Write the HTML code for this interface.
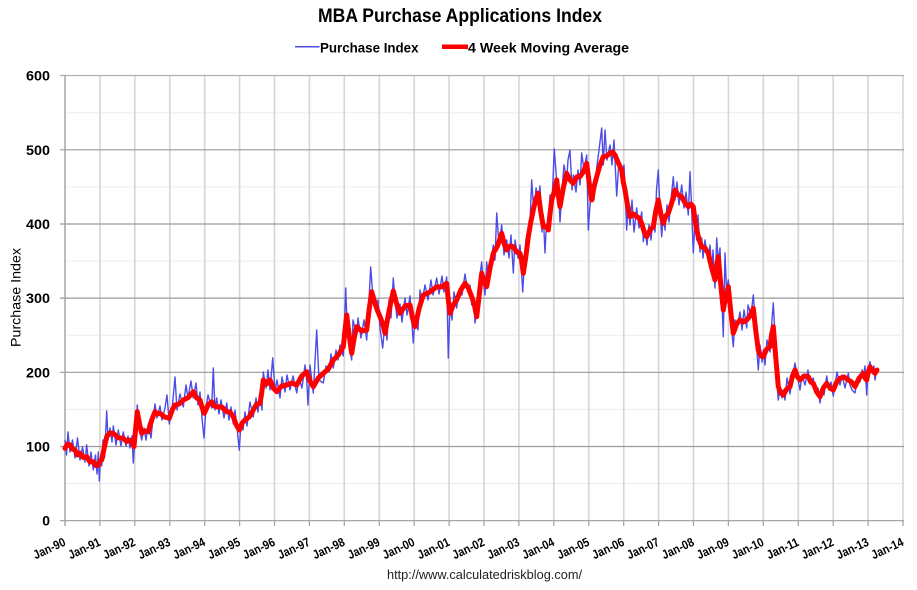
<!DOCTYPE html>
<html>
<head>
<meta charset="utf-8">
<style>
html,body{margin:0;padding:0;background:#fff;}
svg{display:block;}
text{font-family:"Liberation Sans",Arial,sans-serif;}
</style>
</head>
<body>
<svg width="917" height="590" viewBox="0 0 917 590" xmlns="http://www.w3.org/2000/svg">
<rect x="0" y="0" width="917" height="590" fill="#fff"/>

<!-- Title -->
<text x="460" y="22" text-anchor="middle" font-size="19" font-weight="bold" fill="#000" textLength="284" lengthAdjust="spacingAndGlyphs">MBA Purchase Applications Index</text>

<!-- Legend -->
<line x1="295" y1="46.7" x2="319.5" y2="46.7" stroke="#4d4de6" stroke-width="1.5"/>
<text x="320" y="52.3" font-size="14" font-weight="bold" fill="#000" textLength="98.5" lengthAdjust="spacingAndGlyphs">Purchase Index</text>
<line x1="442" y1="46.7" x2="468" y2="46.7" stroke="#ff0000" stroke-width="4.5"/>
<text x="468" y="52.3" font-size="14" font-weight="bold" fill="#000" textLength="161" lengthAdjust="spacingAndGlyphs">4 Week Moving Average</text>

<!-- Minor horizontal gridlines -->
<g stroke="#ececec" stroke-width="1">
<line x1="65" y1="483.6" x2="903" y2="483.6"/>
<line x1="65" y1="409.4" x2="903" y2="409.4"/>
<line x1="65" y1="335.2" x2="903" y2="335.2"/>
<line x1="65" y1="261.1" x2="903" y2="261.1"/>
<line x1="65" y1="186.9" x2="903" y2="186.9"/>
<line x1="65" y1="112.7" x2="903" y2="112.7"/>
</g>

<!-- Vertical gridlines -->
<g stroke="#d6d6d6" stroke-width="1.6">
<line x1="99.9" y1="75.5" x2="99.9" y2="521"/>
<line x1="134.8" y1="75.5" x2="134.8" y2="521"/>
<line x1="169.8" y1="75.5" x2="169.8" y2="521"/>
<line x1="204.7" y1="75.5" x2="204.7" y2="521"/>
<line x1="239.6" y1="75.5" x2="239.6" y2="521"/>
<line x1="274.5" y1="75.5" x2="274.5" y2="521"/>
<line x1="309.4" y1="75.5" x2="309.4" y2="521"/>
<line x1="344.3" y1="75.5" x2="344.3" y2="521"/>
<line x1="379.3" y1="75.5" x2="379.3" y2="521"/>
<line x1="414.2" y1="75.5" x2="414.2" y2="521"/>
<line x1="449.1" y1="75.5" x2="449.1" y2="521"/>
<line x1="484.0" y1="75.5" x2="484.0" y2="521"/>
<line x1="518.9" y1="75.5" x2="518.9" y2="521"/>
<line x1="553.8" y1="75.5" x2="553.8" y2="521"/>
<line x1="588.8" y1="75.5" x2="588.8" y2="521"/>
<line x1="623.7" y1="75.5" x2="623.7" y2="521"/>
<line x1="658.6" y1="75.5" x2="658.6" y2="521"/>
<line x1="693.5" y1="75.5" x2="693.5" y2="521"/>
<line x1="728.4" y1="75.5" x2="728.4" y2="521"/>
<line x1="763.3" y1="75.5" x2="763.3" y2="521"/>
<line x1="798.3" y1="75.5" x2="798.3" y2="521"/>
<line x1="833.2" y1="75.5" x2="833.2" y2="521"/>
<line x1="868.1" y1="75.5" x2="868.1" y2="521"/>
<line x1="903.0" y1="75.5" x2="903.0" y2="521"/>
</g>

<!-- Major horizontal gridlines -->
<g stroke="#9a9a9a" stroke-width="1.2">
<line x1="60" y1="75.5" x2="904" y2="75.5" stroke="#b0b0b0"/>
<line x1="60" y1="149.8" x2="904" y2="149.8"/>
<line x1="60" y1="224" x2="904" y2="224"/>
<line x1="60" y1="298.1" x2="904" y2="298.1"/>
<line x1="60" y1="372.3" x2="904" y2="372.3"/>
<line x1="60" y1="446.5" x2="904" y2="446.5"/>
<line x1="60" y1="520.7" x2="904" y2="520.7"/>
</g>

<!-- Axes -->
<line x1="65" y1="75.5" x2="65" y2="526" stroke="#a0a0a0" stroke-width="1.4"/>
<g stroke="#a0a0a0" stroke-width="1.2">
<line x1="99.9" y1="520.7" x2="99.9" y2="526"/>
<line x1="134.8" y1="520.7" x2="134.8" y2="526"/>
<line x1="169.8" y1="520.7" x2="169.8" y2="526"/>
<line x1="204.7" y1="520.7" x2="204.7" y2="526"/>
<line x1="239.6" y1="520.7" x2="239.6" y2="526"/>
<line x1="274.5" y1="520.7" x2="274.5" y2="526"/>
<line x1="309.4" y1="520.7" x2="309.4" y2="526"/>
<line x1="344.3" y1="520.7" x2="344.3" y2="526"/>
<line x1="379.3" y1="520.7" x2="379.3" y2="526"/>
<line x1="414.2" y1="520.7" x2="414.2" y2="526"/>
<line x1="449.1" y1="520.7" x2="449.1" y2="526"/>
<line x1="484.0" y1="520.7" x2="484.0" y2="526"/>
<line x1="518.9" y1="520.7" x2="518.9" y2="526"/>
<line x1="553.8" y1="520.7" x2="553.8" y2="526"/>
<line x1="588.8" y1="520.7" x2="588.8" y2="526"/>
<line x1="623.7" y1="520.7" x2="623.7" y2="526"/>
<line x1="658.6" y1="520.7" x2="658.6" y2="526"/>
<line x1="693.5" y1="520.7" x2="693.5" y2="526"/>
<line x1="728.4" y1="520.7" x2="728.4" y2="526"/>
<line x1="763.3" y1="520.7" x2="763.3" y2="526"/>
<line x1="798.3" y1="520.7" x2="798.3" y2="526"/>
<line x1="833.2" y1="520.7" x2="833.2" y2="526"/>
<line x1="868.1" y1="520.7" x2="868.1" y2="526"/>
<line x1="903.0" y1="520.7" x2="903.0" y2="526"/>
</g>

<!-- Y tick labels -->
<g font-size="14" font-weight="bold" fill="#000" text-anchor="end">
<text x="50" y="80.5" textLength="24" lengthAdjust="spacingAndGlyphs">600</text>
<text x="50" y="154.8" textLength="24" lengthAdjust="spacingAndGlyphs">500</text>
<text x="50" y="229" textLength="24" lengthAdjust="spacingAndGlyphs">400</text>
<text x="50" y="303.1" textLength="24" lengthAdjust="spacingAndGlyphs">300</text>
<text x="50" y="377.3" textLength="24" lengthAdjust="spacingAndGlyphs">200</text>
<text x="50" y="451.5" textLength="24" lengthAdjust="spacingAndGlyphs">100</text>
<text x="50" y="525.7">0</text>
</g>

<!-- Y axis title -->
<text transform="translate(20.5,297.5) rotate(-90)" text-anchor="middle" font-size="13.5" fill="#000" textLength="99" lengthAdjust="spacingAndGlyphs">Purchase Index</text>

<!-- X tick labels -->
<g font-size="12.5" font-weight="bold" fill="#000" text-anchor="end">
<text transform="translate(66.5,545) rotate(-25)" textLength="34" lengthAdjust="spacingAndGlyphs">Jan-90</text>
<text transform="translate(101.4,545) rotate(-25)" textLength="34" lengthAdjust="spacingAndGlyphs">Jan-91</text>
<text transform="translate(136.3,545) rotate(-25)" textLength="34" lengthAdjust="spacingAndGlyphs">Jan-92</text>
<text transform="translate(171.3,545) rotate(-25)" textLength="34" lengthAdjust="spacingAndGlyphs">Jan-93</text>
<text transform="translate(206.2,545) rotate(-25)" textLength="34" lengthAdjust="spacingAndGlyphs">Jan-94</text>
<text transform="translate(241.1,545) rotate(-25)" textLength="34" lengthAdjust="spacingAndGlyphs">Jan-95</text>
<text transform="translate(276.0,545) rotate(-25)" textLength="34" lengthAdjust="spacingAndGlyphs">Jan-96</text>
<text transform="translate(310.9,545) rotate(-25)" textLength="34" lengthAdjust="spacingAndGlyphs">Jan-97</text>
<text transform="translate(345.8,545) rotate(-25)" textLength="34" lengthAdjust="spacingAndGlyphs">Jan-98</text>
<text transform="translate(380.8,545) rotate(-25)" textLength="34" lengthAdjust="spacingAndGlyphs">Jan-99</text>
<text transform="translate(415.7,545) rotate(-25)" textLength="34" lengthAdjust="spacingAndGlyphs">Jan-00</text>
<text transform="translate(450.6,545) rotate(-25)" textLength="34" lengthAdjust="spacingAndGlyphs">Jan-01</text>
<text transform="translate(485.5,545) rotate(-25)" textLength="34" lengthAdjust="spacingAndGlyphs">Jan-02</text>
<text transform="translate(520.4,545) rotate(-25)" textLength="34" lengthAdjust="spacingAndGlyphs">Jan-03</text>
<text transform="translate(555.3,545) rotate(-25)" textLength="34" lengthAdjust="spacingAndGlyphs">Jan-04</text>
<text transform="translate(590.3,545) rotate(-25)" textLength="34" lengthAdjust="spacingAndGlyphs">Jan-05</text>
<text transform="translate(625.2,545) rotate(-25)" textLength="34" lengthAdjust="spacingAndGlyphs">Jan-06</text>
<text transform="translate(660.1,545) rotate(-25)" textLength="34" lengthAdjust="spacingAndGlyphs">Jan-07</text>
<text transform="translate(695.0,545) rotate(-25)" textLength="34" lengthAdjust="spacingAndGlyphs">Jan-08</text>
<text transform="translate(729.9,545) rotate(-25)" textLength="34" lengthAdjust="spacingAndGlyphs">Jan-09</text>
<text transform="translate(764.8,545) rotate(-25)" textLength="34" lengthAdjust="spacingAndGlyphs">Jan-10</text>
<text transform="translate(799.8,545) rotate(-25)" textLength="34" lengthAdjust="spacingAndGlyphs">Jan-11</text>
<text transform="translate(834.7,545) rotate(-25)" textLength="34" lengthAdjust="spacingAndGlyphs">Jan-12</text>
<text transform="translate(869.6,545) rotate(-25)" textLength="34" lengthAdjust="spacingAndGlyphs">Jan-13</text>
<text transform="translate(904.5,545) rotate(-25)" textLength="34" lengthAdjust="spacingAndGlyphs">Jan-14</text>
</g>

<!-- Footer -->
<text x="387" y="579" font-size="12.5" fill="#222" textLength="195" lengthAdjust="spacingAndGlyphs">http://www.calculatedriskblog.com/</text>

<!-- Purchase Index (blue) -->
<polyline fill="none" stroke="#4d4de6" stroke-width="1.4" stroke-linejoin="round" points="
65,440 66.5,455 68,432 70,452 72.5,440 75,458 77.5,438 80,460 82.5,447 85,462 86.7,445 89,466 91,452 93.3,470 95.5,455 97,474 98.3,452 99.3,481 100.5,458 101.7,466 103,440 104.5,458 106.7,411 108,440 110,428 112,442 113.3,426 116,445 118.3,430 121,446 123.3,432 126,446 128,436 130,448 132,436 133.3,463 135,440 137.3,405 139,425 141.7,440 144,428 146,440 148.3,424 151,438 153,418 155,404 157,418 160,406 162,420 165,408 167,395 169.3,424 172,410 175,377 177,410 180,394 183.3,407 186,385 188,398 191,381 193.3,398 196,383 198,405 200,392 202,418 204,438 206,408 208,395 211.7,408 213.3,368 215,410 216.7,398 219,414 221,400 224,418 226.7,403 229,420 231,407 233.3,424 235,410 237,428 239.3,450 241,422 243,430 245,412 247,426 250,402 253.3,417 256,398 258,412 260,395 262,410 263.3,372 266,388 268,370 270,390 272.7,358 275,392 277,380 280,398 282,377 285,392 287,375 290,390 293,376 296.7,393 299,378 302,388 305,365 306.7,380 308,405 310,365 313.3,393 316.7,330 319,380 323.3,383 326,366 329,372 331,354 333.3,368 336,350 338,360 340,345 343.3,356 345.7,288 347,322 349,345 351.7,360 353,320 356.7,335 358,318 361,338 364,320 366.7,340 369,300 370.7,267 373,298 376,312 378,300 380,328 382.7,348 385,322 387,340 389,300 391,318 393.3,278 395,300 397,318 400,304 402,322 405,298 407,315 410,296 413.3,343 415,318 418,330 420,290 422,302 425,285 428,300 431,280 433,295 436.7,278 439,294 442,276 444,292 446.7,277 448.3,358 450,305 452,320 454,292 456.7,308 459,290 462,295 465,274 468,292 470,285 471.7,305 474,300 475,323 477,310 479,282 481.7,262 483,280 485,295 486.7,262 489,282 491,262 493.3,245 495,260 496.7,213 499,245 501.7,225 504,255 506.7,240 509,258 511,235 513.3,273 515,240 518,258 520,245 522.7,292 524,270 526,240 528.3,228 530,222 531.7,180 534,215 536,188 538.3,198 540,186 542,232 543.3,215 545,253 546,232 548.3,225 550,195 551.7,210 554.3,149 556,172 557.5,195 559,200 560,222 562,190 564,165 566.7,180 568,160 570,150 572,190 573.3,175 576,192 578,170 580,185 581.7,153 584,170 586.7,155 588.3,230 590,205 591.7,190 594,200 596.7,168 599,150 601.7,128 603.3,165 605,130 607,160 610,145 612,165 614,140 616.7,196 619,160 621.7,180 624,165 626.7,230 628,205 630,225 632,200 634,232 636.7,208 639,228 641.7,212 643.3,241.7 645,228 647,245 649,225 651,240 653.3,215 655,232 656.5,190 658.3,170 660,210 661.7,236.7 663.3,215 665,230 667,205 669,222 671,200 673.3,176.7 675,200 677,182 679,205 681.7,185 684,208 686,192 688.3,215 690,171.7 691.5,205 693.3,253 695,222 696.7,240 698,215 700,252 701.7,238 703,258 705,240 708.3,262 710,245 712,270 713,250 715,288 716.7,238 718.3,262 720,248 721.5,290 723.3,336.7 725,253 726.5,290 728.3,280 730,300 731.5,328 733.3,346.7 735,320 737,328 740,312 742,330 744,310 746.7,328 748,305 751,315 753.3,295 755,318 756.5,345 758.3,370 760,345 762,362 763.3,350 765,365 767,340 770,352 772,320 773.3,303 775,335 776.5,380 778.3,400 780,388 782,398 783.3,390 785,400 787,378 790,394 792,380 795,363 797,375 800,390 802,375 805,385 808,370 810,384 813.3,378 815,392 818,388 820,403 822,388 824,395 826.7,376 829,390 831,382 833.3,396 835,385 837,372 840,385 842,375 845,388 848.3,373 850,385 852,390 855,393 857,380 860,382 862,370 863.3,378 865,366 866.7,395 868,372 870,361.7 872,372 874,366 875,380 877,368"/>

<!-- 4 Week Moving Average (red) -->
<polyline fill="none" stroke="#ff0000" stroke-width="5" stroke-linejoin="round" stroke-linecap="round" points="
65,448.3 67.5,444 70,445 72.5,449 75,450 77.5,455 80,453.3 83.3,457.5 86.7,456.7 90,462 93.3,461.7 95.8,465.5 98.3,465 100,461 101.7,460 104.2,448 106.7,436.7 110,433 113.3,433.3 118.3,437.8 123.3,438.3 126.7,441.5 130,440 132,442 134,446.7 135.7,428 137.3,411.7 139.5,424 141.7,433.3 145,431 148.3,431.7 151.7,420 155,411.7 157.5,414 160,413.3 164.7,417 169.3,418.3 172.2,410 175,405 179.2,404 183.3,400 188.3,397.5 193.3,391.7 196.7,398 200,400 202.2,408 204.3,413.3 208,405 211.7,401.7 214.2,406 216.7,406.7 221.7,407 226.7,411.7 230,412 233.3,416.7 236.3,425 239.3,430 242.2,423 245,420 249.2,417 253.3,410 256.7,404 260,403.3 261.7,393 263.3,380 266.7,384 270,380 273.3,388 276.7,391.7 281.7,386 286.7,385 291.7,383 296.7,385 301.7,376 306.7,371.7 310,381 313.3,386.7 318.3,378 323.3,373.3 328.3,369 333.3,360 338.3,355 343.3,346.7 345,330 346.7,315 349.2,336 351.7,353.3 354.2,338 356.7,326.7 361.7,331 366.7,330 369.2,309 371.7,291.7 375.8,306 380,316.7 382.5,323 385,333.3 389.2,310 393.3,291 396.7,304 400,313.3 405,306 410,305 412.5,318 415,326.7 419.2,308 423.3,295 430,292 436.7,286.7 441.7,287 446.7,283.3 448.3,300 450,313.3 453.3,305 456.7,300 460.8,290 465,283.3 468.3,288 471.7,296.7 474.2,304 476.7,316.7 479.2,295 481.7,273.3 484.2,282 486.7,286.7 490,268 493.3,253.3 497.5,246 501.7,233.3 504.2,244 506.7,250 510,246 513.3,246.7 516.7,252 520,253.3 521.7,261 523.3,273.3 525.8,257 528.3,236.7 530.8,222 533.3,210 535.8,199 538.3,193.3 540.8,212 543.3,226.7 545.8,226 548.3,230 550,214 551.7,200 554.2,192 556.7,180 558.3,195 560,206.7 563.3,188 566.7,173.3 570,180 573.3,183.3 576.7,177 580,176.7 583.3,172 586.7,163.3 589.2,183 591.7,200 594.2,186 596.7,176.7 600,165 603.3,156.7 606.7,156 610,153.3 612.5,152 615,155 618.3,163 621.7,170 623.3,182 625,190 627.5,205 630,216.7 633.3,214 636.7,216.7 639.2,218 641.7,223.3 644.2,232 646.7,236.7 650,230 653.3,226.7 655.8,211 658.3,200 660.8,214 663.3,223.3 665.8,216 668.3,213.3 671.7,203 675,190 678.3,195 681.7,196.7 685,203 688.3,206.7 690.8,204 693.3,206.7 695,220 696.7,230 699.2,240 701.7,246.7 705,248 708.3,253.3 711.7,268 715,280 716.7,266 718.3,256.7 720.8,285 723.3,310 725.8,296 728.3,286.7 730.8,312 733.3,333.3 736.7,324 740,320 743.3,322 746.7,320 750,316 753.3,308.3 755.8,331 758.3,350 760.8,356 763.3,356.7 766.7,349 770,346.7 771.7,334 773.3,326.7 775.8,358 778.3,386.7 780.8,393 783.3,395 786.7,389 790,386.7 792.5,376 795,370 797.5,377 800,380 804.2,376 808.3,376.7 810.8,382 813.3,383.3 816.7,392 820,396.7 823.3,388 826.7,383.3 830,388 833.3,390 836.7,382 840,378.3 844.2,377 848.3,380 851.7,382 855,386.7 859.2,378 863.3,373.3 865,378 866.7,380 868.3,372 870,366.7 872.5,371 875,373.3 877,370"/>

</svg>
</body>
</html>
